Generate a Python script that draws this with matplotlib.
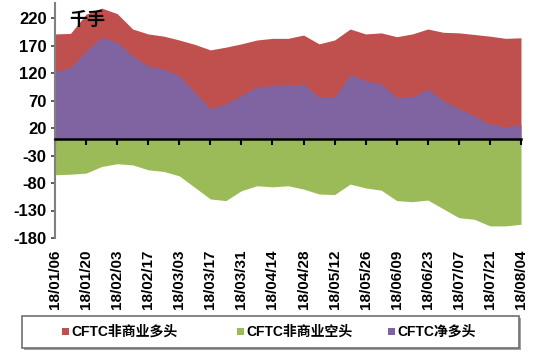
import matplotlib
matplotlib.use("Agg")
import matplotlib.pyplot as plt
from matplotlib.patches import Rectangle
import numpy as np

plt.rcParams['font.family'] = ['Liberation Sans', 'Noto Sans CJK SC', 'DejaVu Sans']

dates = ["18/01/06", "18/01/13", "18/01/20", "18/01/27", "18/02/03", "18/02/10",
         "18/02/17", "18/02/24", "18/03/03", "18/03/10", "18/03/17", "18/03/24",
         "18/03/31", "18/04/07", "18/04/14", "18/04/21", "18/04/28", "18/05/05",
         "18/05/12", "18/05/19", "18/05/26", "18/06/02", "18/06/09", "18/06/16",
         "18/06/23", "18/06/30", "18/07/07", "18/07/14", "18/07/21", "18/07/28",
         "18/08/04"]

long_pos = [191, 192, 227, 238, 228, 200, 191, 187, 180, 172, 162, 167, 173, 180,
            183, 183, 189, 173, 180, 200, 191, 193, 186, 191, 200, 194, 193, 190,
            187, 183, 184]
short_pos = [-65, -64, -62, -50, -45, -47, -56, -59, -67, -88, -109, -112, -94, -85,
             -87, -85, -91, -100, -101, -82, -89, -93, -112, -114, -111, -127, -143,
             -146, -158, -158, -155]
net_pos = [123, 130, 160, 185, 176, 151, 133, 127, 115, 85, 55, 64, 79, 95, 97, 98,
           100, 76, 76, 117, 106, 100, 76, 76, 91, 70, 55, 42, 27, 22, 26]

series_names = ["CFTC非商业多头", "CFTC非商业空头", "CFTC净多头"]
colors = ["#C0504D", "#9BBB59", "#8064A2"]
yticks = [220, 170, 120, 70, 20, -30, -80, -130, -180]
unit_label = "千手"

W, H = 538, 353
fig = plt.figure(figsize=(W / 100, H / 100), dpi=100)
ax = fig.add_axes([55 / W, (H - 238) / H, (521 - 55) / W, (238 - 2.6) / H])

x = np.arange(len(dates))
ax.fill_between(x, 0, long_pos, color=colors[0], linewidth=0)
ax.fill_between(x, 0, short_pos, color=colors[1], linewidth=0)
ax.fill_between(x, 0, net_pos, color=colors[2], linewidth=0)

ax.set_xlim(0, len(dates) - 1)
ax.set_ylim(-180, 248)

for s in ['top', 'right']:
    ax.spines[s].set_visible(False)
ax.spines['left'].set_color('#808080')
ax.spines['left'].set_linewidth(1.5)
ax.spines['bottom'].set_position(('data', 0))
ax.spines['bottom'].set_color('black')
ax.spines['bottom'].set_linewidth(1.8)

ax.set_yticks(yticks)
ax.set_yticklabels([str(v) for v in yticks], fontsize=12, fontweight='bold')
ax.tick_params(axis='y', direction='out', length=3, width=1.2, color='#404040', pad=3)

tick_idx = list(range(0, len(dates), 2))
ax.set_xticks(tick_idx)
ax.set_xticklabels([])
ax.tick_params(axis='x', direction='out', length=4, width=1.5, color='black')

for i in tick_idx:
    ax.text(i, -0.05, dates[i], transform=ax.get_xaxis_transform(), rotation=90,
            ha='center', va='top', fontsize=11, fontweight='bold', clip_on=False)

ax.text(69 / W, 1 - 19 / H, unit_label, transform=fig.transFigure,
        fontsize=13, fontweight='bold', ha='left', va='center',
        family=['Noto Sans CJK SC'])

# legend box with slight shadow
fig.patches.append(Rectangle((24 / W, (H - 350) / H), (519 - 22) / W, (348 - 316) / H,
                             transform=fig.transFigure, facecolor='#A0A0A0',
                             edgecolor='none'))
fig.patches.append(Rectangle((22 / W, (H - 348) / H), (519 - 22) / W, (348 - 316) / H,
                             transform=fig.transFigure, facecolor='white',
                             edgecolor='#707070', linewidth=1.2))
leg_x = [62, 237, 388]
for lx, name, c in zip(leg_x, series_names, colors):
    fig.patches.append(Rectangle((lx / W, (H - 335) / H), 7 / W, 7 / H,
                                 transform=fig.transFigure, facecolor=c,
                                 edgecolor='none'))
    fig.text((lx + 9) / W, (H - 331.5) / H, name, fontsize=10, fontweight='bold',
             ha='left', va='center', family=['Liberation Sans', 'Noto Sans CJK SC'])

fig.savefig("out.png", dpi=100)
